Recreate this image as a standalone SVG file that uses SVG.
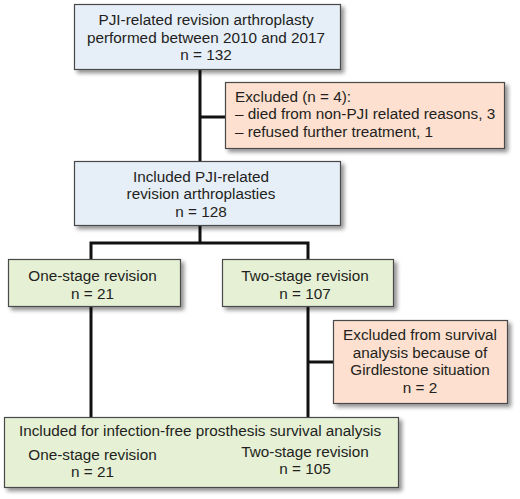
<svg xmlns="http://www.w3.org/2000/svg" width="520" height="499" viewBox="0 0 520 499">
<defs>
<filter id="sh" x="-10%" y="-10%" width="130%" height="140%">
<feGaussianBlur in="SourceAlpha" stdDeviation="2"/>
<feOffset dx="3" dy="3" result="b"/>
<feComponentTransfer><feFuncA type="linear" slope="0.45"/></feComponentTransfer>
<feMerge><feMergeNode/><feMergeNode in="SourceGraphic"/></feMerge>
</filter>
<style>
.box{stroke:#4a4a4a;stroke-width:1.2;filter:url(#sh)}
.blue{fill:#e6eef8}
.orange{fill:#fde0cf}
.green{fill:#e5f0d5}
text{font-family:"Liberation Sans",Arial,sans-serif;font-size:15.3px;fill:#231f20}
.c{text-anchor:middle}
.conn{stroke:#111;stroke-width:3;fill:none}
</style>
</defs>
<g id="connectors">
<line class="conn" x1="200" y1="69" x2="200" y2="161"/>
<line class="conn" x1="200" y1="117" x2="225" y2="117"/>
<line class="conn" x1="200" y1="225" x2="200" y2="243"/>
<polyline class="conn" points="91,259 91,243 308,243 308,259"/>
<line class="conn" x1="91" y1="306" x2="91" y2="417"/>
<line class="conn" x1="308" y1="306" x2="308" y2="417"/>
<line class="conn" x1="308" y1="362" x2="333" y2="362"/>
</g>
<g id="n1">
<rect class="box blue" x="74.5" y="4.5" width="266" height="65"/>
<text class="c" x="206" y="25">PJI-related revision arthroplasty</text>
<text class="c" x="206" y="43">performed between 2010 and 2017</text>
<text class="c" x="206" y="60">n = 132</text>
</g>
<g id="n2">
<rect class="box orange" x="225.5" y="82.5" width="279" height="66"/>
<text x="235" y="102">Excluded (n = 4):</text>
<text x="235" y="119">– died from non-PJI related reasons, 3</text>
<text x="235" y="137">– refused further treatment, 1</text>
</g>
<g id="n3">
<rect class="box blue" x="74.5" y="161.5" width="266" height="64"/>
<text class="c" x="201" y="182">Included PJI-related</text>
<text class="c" x="201" y="199">revision arthroplasties</text>
<text class="c" x="201" y="217">n = 128</text>
</g>
<g id="n4">
<rect class="box green" x="8.5" y="259.5" width="172" height="47"/>
<text class="c" x="92.5" y="281">One-stage revision</text>
<text class="c" x="92.5" y="299">n = 21</text>
</g>
<g id="n5">
<rect class="box green" x="222.5" y="259.5" width="171" height="47"/>
<text class="c" x="305" y="281">Two-stage revision</text>
<text class="c" x="305" y="299">n = 107</text>
</g>
<g id="n6">
<rect class="box orange" x="333.5" y="320.5" width="174" height="83"/>
<text class="c" x="420" y="340">Excluded from survival</text>
<text class="c" x="420" y="358">analysis because of</text>
<text class="c" x="420" y="375">Girdlestone situation</text>
<text class="c" x="420" y="393">n = 2</text>
</g>
<g id="n7">
<rect class="box green" x="4.5" y="417.5" width="394" height="70"/>
<text class="c" x="200" y="436">Included for infection-free prosthesis survival analysis</text>
<text class="c" x="92.5" y="460">One-stage revision</text>
<text class="c" x="92.5" y="477">n = 21</text>
<text class="c" x="305" y="457">Two-stage revision</text>
<text class="c" x="305" y="474">n = 105</text>
</g>
</svg>
